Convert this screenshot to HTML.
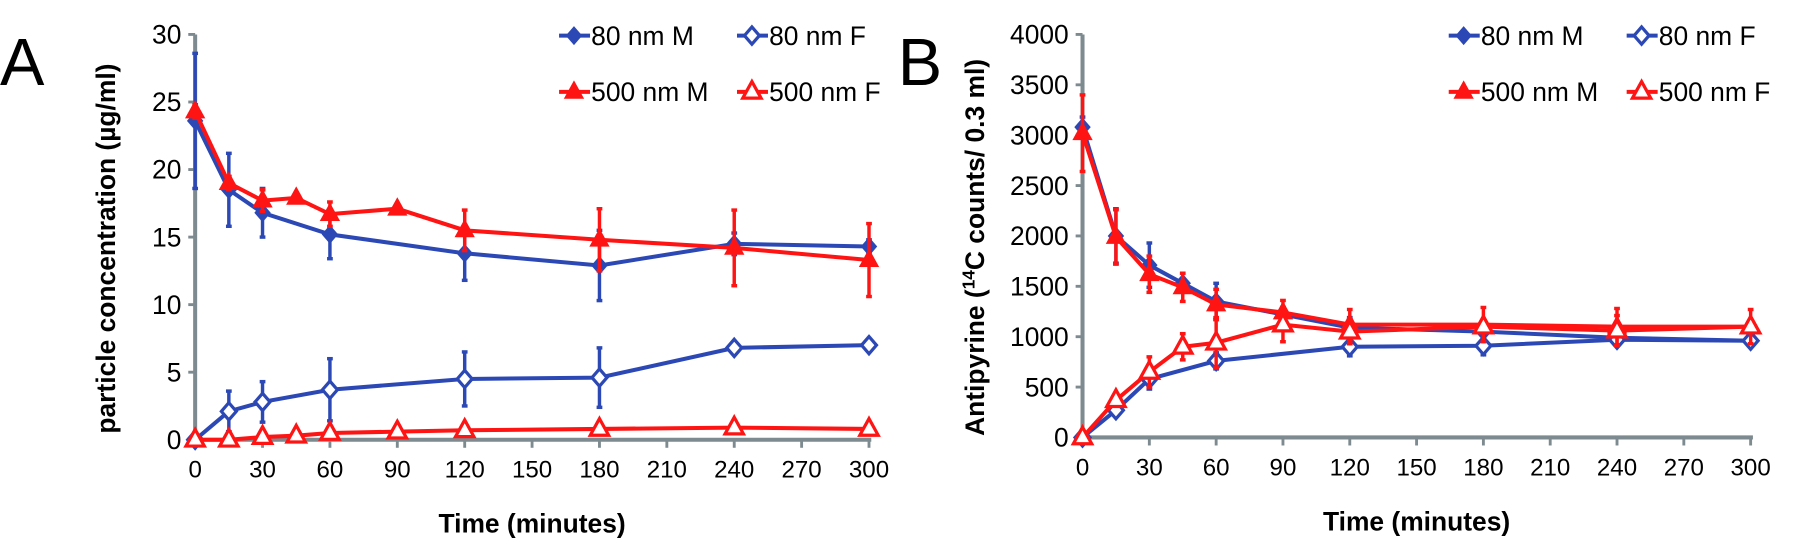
<!DOCTYPE html>
<html><head><meta charset="utf-8"><style>
body{margin:0;background:#fff;}
svg{display:block;font-family:"Liberation Sans",sans-serif;}
</style></head><body>
<svg id="c" width="1800" height="558" viewBox="0 0 1568 486" preserveAspectRatio="none">
<text x="0" y="74" font-size="58">A</text>
<text x="782" y="74" font-size="58">B</text>
</svg>
<script>
const times=[0,15,30,45,60,90,120,180,240,300];
const xTicks=[0,30,60,90,120,150,180,210,240,270,300];
// Panel A values (null = no point)
const aM80=[23.6,18.5,16.8,null,15.2,null,13.8,12.9,14.5,14.3];
const aM80e=[5,2.7,1.8,null,1.8,null,2,2.6,0.8,0.5];
const aF80=[0,2.1,2.8,null,3.7,null,4.5,4.6,6.8,7.0];
const aF80e=[0,1.5,1.5,null,2.3,null,2,2.2,0.2,0.2];
const aM500=[24.3,19,17.7,17.9,16.7,17.1,15.5,14.8,14.2,13.3];
const aM500e=[0.5,0.5,0.8,0.3,0.9,0.2,1.5,2.3,2.8,2.7];
const aF500=[0,0,0.2,0.3,0.5,0.6,0.7,0.8,0.9,0.8];
const aF500e=[0,0,0,0,0,0,0,0,0,0];
const aYTicks=[0,5,10,15,20,25,30];
// Panel B values
const bM80=[3080,2000,1710,1530,1350,1220,1090,1050,990,960];
const bM80e=[100,270,220,0,180,0,100,0,0,0];
const bF80=[0,270,580,null,760,null,900,910,970,960];
const bF80e=[0,0,100,null,80,null,90,90,60,0];
const bM500=[3020,1990,1620,1490,1320,1240,1120,1120,1100,1100];
const bM500e=[380,270,180,140,150,120,150,170,180,170];
const bF500=[0,370,650,900,940,1120,1050,1100,1060,1100];
const bF500e=[0,0,150,130,250,170,120,0,150,0];
const bYTicks=[0,500,1000,1500,2000,2500,3000,3500,4000];

const NS="http://www.w3.org/2000/svg";
const svg=document.getElementById('c');
function mk(tag,attrs,parent){const e=document.createElementNS(NS,tag);for(const k in attrs)e.setAttribute(k,attrs[k]);(parent||svg).appendChild(e);return e;}
const BLUE="#2b48b5",RED="#ff1414",GRAY="#7d8a8f";

function marker(g,type,x,y,col){
  if(type==='dia'||type==='diaO'){
    const m=mk('polygon',{points:`${x},${y-7.5} ${x+6.5},${y} ${x},${y+7.5} ${x-6.5},${y}`,fill:type==='dia'?col:'#fff',stroke:col,'stroke-width':type==='dia'?1:2.8},g);
    
  } else {
    const m=mk('polygon',{points:`${x},${y-9} ${x+8},${y+5.5} ${x-8},${y+5.5}`,fill:type==='tri'?col:'#fff',stroke:col,'stroke-width':type==='tri'?1:2.8},g);
    
  }
}

function panel(p){
  const X=t=>p.x0+(t/300)*(p.x1-p.x0);
  const Y=v=>p.y0-(v/p.ymax)*(p.y0-p.y1);
  const ax=mk('g',{});
  
  mk('line',{x1:p.x0,y1:p.y1,x2:p.x0,y2:p.y0+1,stroke:GRAY,'stroke-width':3.5},ax);
  mk('line',{x1:p.x0-2,y1:p.y0,x2:p.x1+2,y2:p.y0,stroke:GRAY,'stroke-width':3.5},ax);
  p.yt.forEach(v=>{
    mk('line',{x1:p.x0-6,x2:p.x0,y1:Y(v),y2:Y(v),stroke:GRAY,'stroke-width':2.5},ax);
    const t=mk('text',{x:p.x0-12,y:Y(v)+8,'font-size':23,'text-anchor':'end'},ax);t.textContent=v;
    
  });
  xTicks.forEach(v=>{
    mk('line',{x1:X(v),x2:X(v),y1:p.y0,y2:p.y0+7,stroke:GRAY,'stroke-width':2.5},ax);
    const t=mk('text',{x:X(v),y:p.y0+33,'font-size':21,'text-anchor':'middle'},ax);t.textContent=v;
    
  });
  const xt=mk('text',{x:(p.x0+p.x1)/2,y:p.y0+81,'font-size':23,'font-weight':'bold','text-anchor':'middle'},ax);
  xt.textContent='Time (minutes)';
  
  const yt=mk('text',{x:0,y:0,'font-size':23,'font-weight':'bold','text-anchor':'middle',transform:`translate(${p.ytx},${(p.y0+p.y1)/2+10}) rotate(-90)`},ax);
  yt.innerHTML=p.ytitle;
  

  p.series.forEach(s=>{
    const g=mk('g',{});
    
    const pts=[];
    times.forEach((t,i)=>{if(s.v[i]!=null)pts.push([X(t),Y(s.v[i]),s.e[i]]);});
    pts.forEach(q=>{if(q[2]>0){const d=q[2]/p.ymax*(p.y0-p.y1);
      mk('line',{x1:q[0],x2:q[0],y1:q[1]-d,y2:q[1]+d,stroke:s.c,'stroke-width':3},g);
      mk('line',{x1:q[0]-2.5,x2:q[0]+2.5,y1:q[1]-d,y2:q[1]-d,stroke:s.c,'stroke-width':3},g);
      mk('line',{x1:q[0]-2.5,x2:q[0]+2.5,y1:q[1]+d,y2:q[1]+d,stroke:s.c,'stroke-width':3},g);}});
    mk('polyline',{points:pts.map(q=>q[0]+','+q[1]).join(' '),fill:'none',stroke:s.c,'stroke-width':3.5},g);
    pts.forEach(q=>marker(g,s.m,q[0],q[1],s.c));
  });
  const lg=mk('g',{});
  
  const L=[[p.lx,31,BLUE,'dia','80 nm M'],[p.lx+155,31,BLUE,'diaO','80 nm F'],[p.lx,80,RED,'tri','500 nm M'],[p.lx+155,80,RED,'triO','500 nm F']];
  L.forEach(l=>{
    const e=mk('g',{},lg);
    
    mk('line',{x1:l[0],x2:l[0]+27,y1:l[1],y2:l[1],stroke:l[2],'stroke-width':3.5},e);
    marker(e,l[3],l[0]+13,l[1],l[2]);
    const t=mk('text',{x:l[0]+28,y:l[1]+8,'font-size':23},e);t.textContent=l[4];
  });
}
panel({id:'panel-a',x0:170,x1:757,y0:383,y1:30,ymax:30,yt:aYTicks,ytx:100,lx:487,
  ytitle:'particle concentration (µg/ml)',
  series:[{name:'series-80nm-m',v:aM80,e:aM80e,c:BLUE,m:'dia'},{name:'series-80nm-f',v:aF80,e:aF80e,c:BLUE,m:'diaO'},
          {name:'series-500nm-m',v:aM500,e:aM500e,c:RED,m:'tri'},{name:'series-500nm-f',v:aF500,e:aF500e,c:RED,m:'triO'}]});
panel({id:'panel-b',x0:943,x1:1525,y0:381,y1:30,ymax:4000,yt:bYTicks,ytx:857,lx:1262,
  ytitle:'Antipyrine (<tspan font-size="15" dy="-8">14</tspan><tspan dy="8">C counts/ 0.3 ml)</tspan>',
  series:[{name:'series-80nm-m',v:bM80,e:bM80e,c:BLUE,m:'dia'},{name:'series-80nm-f',v:bF80,e:bF80e,c:BLUE,m:'diaO'},
          {name:'series-500nm-m',v:bM500,e:bM500e,c:RED,m:'tri'},{name:'series-500nm-f',v:bF500,e:bF500e,c:RED,m:'triO'}]});
</script>
</body></html>
